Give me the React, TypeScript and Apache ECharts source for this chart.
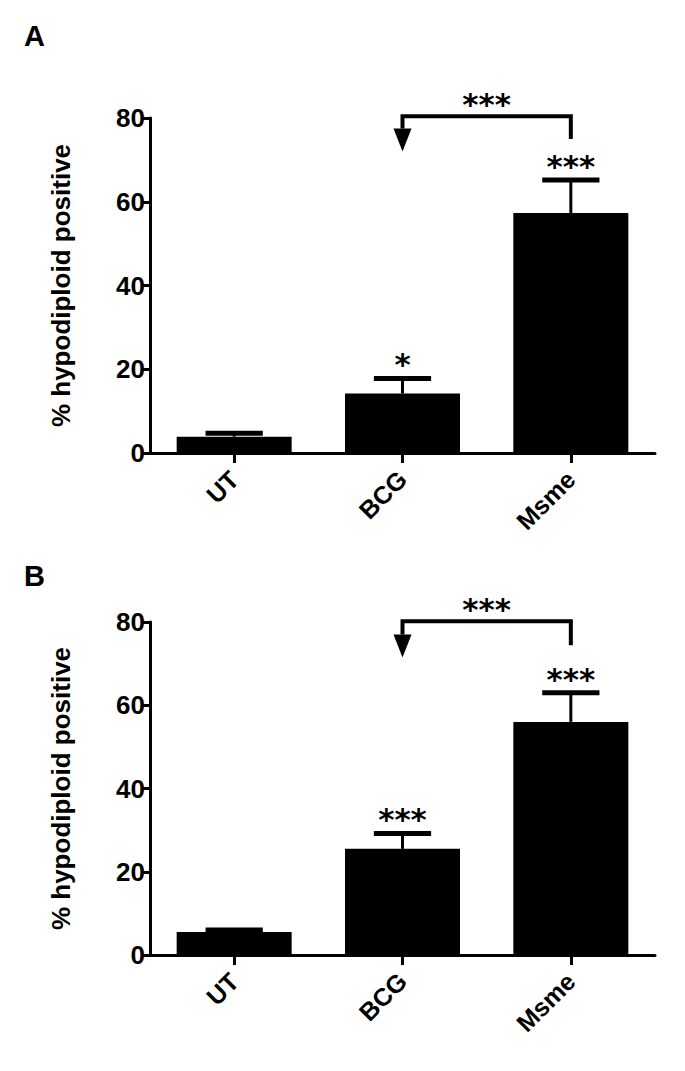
import React, { useEffect, useRef } from "react";
import * as echarts from "echarts";

const categories = ["UT", "BCG", "Msme"];
const meanA = [3.9, 14.2, 57.3];
const errTopA = [4.7, 17.8, 65.2];
const starsA = ["", "*", "***"];
// from, to, bracket level, right end, arrow base, arrow tip
const bracketA = [1, 2, 80.4, 75.0, 77.5, 72.0];
const bracketStarsA = "***";

const meanB = [5.5, 25.5, 56.0];
const errTopB = [6.0, 29.2, 63.0];
const starsB = ["", "***", "***"];
const bracketB = [1, 2, 80.2, 74.4, 77.0, 71.5];
const bracketStarsB = "***";

const yMin = 0;
const yMax = 80;
const yInterval = 20;
const yTitle = "% hypodiploid positive";
const panelLabels = ["A", "B"];

const STAR_FONT = "DejaVu Sans";

function makeErrorRender(stars: string[]) {
  return (params: any, api: any) => {
    const idx = api.value(0);
    const mean = api.value(1);
    const top = api.value(2);
    const p0 = api.coord([idx, mean]);
    const p1 = api.coord([idx, top]);
    const half = api.size([1, 0])[0] * 0.17;
    const star = stars[params.dataIndex];
    const children: any[] = [
      { type: "line", shape: { x1: p0[0], y1: p0[1], x2: p1[0], y2: p1[1] }, style: { stroke: "#000", lineWidth: 3 } },
      { type: "line", shape: { x1: p1[0] - half, y1: p1[1], x2: p1[0] + half, y2: p1[1] }, style: { stroke: "#000", lineWidth: 5 } },
    ];
    if (star) {
      children.push({
        type: "text",
        x: p1[0],
        y: p1[1] - 14,
        style: { text: star, fill: "#000", font: `bold 31px "${STAR_FONT}"`, align: "center", verticalAlign: "middle" },
      });
    }
    return { type: "group", children };
  };
}

function makeBracketRender(label: string) {
  return (params: any, api: any) => {
    const from = api.value(0);
    const to = api.value(1);
    const level = api.value(2);
    const rightEnd = api.value(3);
    const arrowBase = api.value(4);
    const arrowTip = api.value(5);
    const pL = api.coord([from, level]);
    const pR = api.coord([to, level]);
    const pRe = api.coord([to, rightEnd]);
    const pAb = api.coord([from, arrowBase]);
    const pAt = api.coord([from, arrowTip]);
    const aw = 9;
    return {
      type: "group",
      children: [
        {
          type: "polyline",
          shape: { points: [[pRe[0], pRe[1]], [pR[0], pR[1]], [pL[0], pL[1]], [pAb[0], pAb[1]]] },
          style: { stroke: "#000", lineWidth: 4, fill: null },
        },
        {
          type: "polygon",
          shape: { points: [[pAb[0] - aw, pAb[1]], [pAb[0] + aw, pAb[1]], [pAt[0], pAt[1]]] },
          style: { fill: "#000" },
        },
        {
          type: "text",
          x: (pL[0] + pR[0]) / 2,
          y: pL[1] - 12,
          style: { text: label, fill: "#000", font: `bold 31px "${STAR_FONT}"`, align: "center", verticalAlign: "middle" },
        },
      ],
    };
  };
}

function yAxisCfg(gridIndex: number) {
  return {
    type: "value",
    gridIndex,
    min: yMin,
    max: yMax,
    interval: yInterval,
    name: yTitle,
    nameLocation: "middle",
    nameGap: 76,
    nameTextStyle: { fontFamily: "Liberation Sans", fontWeight: "bold", fontSize: 26, color: "#000" },
    axisLine: { show: true, lineStyle: { color: "#000", width: 3 } },
    axisTick: { show: true, length: 7, lineStyle: { color: "#000", width: 3 } },
    axisLabel: { fontFamily: "Liberation Sans", fontWeight: "bold", fontSize: 26, color: "#000", margin: 5 },
    splitLine: { show: false },
  };
}

function xAxisCfg(gridIndex: number) {
  return {
    type: "category",
    gridIndex,
    data: categories,
    axisLine: { show: true, lineStyle: { color: "#000", width: 3 } },
    axisTick: { show: true, alignWithLabel: true, length: 10, lineStyle: { color: "#000", width: 3 } },
    axisLabel: { rotate: 45, fontFamily: "Liberation Sans", fontWeight: "bold", fontSize: 25, color: "#000", margin: 22 },
  };
}

export default function App() {
  const ref = useRef<HTMLDivElement>(null);
  useEffect(() => {
    if (!ref.current) return;
    const chart = echarts.init(ref.current, null, { renderer: "svg" });
    const option: any = {
      animation: false,
      backgroundColor: "#fff",
      grid: [
        { left: 150, top: 118, width: 505, height: 335 },
        { left: 150, top: 622, width: 505, height: 333 },
      ],
      xAxis: [xAxisCfg(0), xAxisCfg(1)],
      yAxis: [yAxisCfg(0), yAxisCfg(1)],
      graphic: [
        { type: "text", left: 24, top: 21, style: { text: panelLabels[0], font: 'bold 29px "Liberation Sans"', fill: "#000" } },
        { type: "text", left: 24, top: 561, style: { text: panelLabels[1], font: 'bold 29px "Liberation Sans"', fill: "#000" } },
      ],
      series: [
        { type: "bar", xAxisIndex: 0, yAxisIndex: 0, data: meanA, barWidth: 115, itemStyle: { color: "#000" } },
        {
          type: "custom",
          xAxisIndex: 0,
          yAxisIndex: 0,
          data: meanA.map((m, i) => [i, m, errTopA[i]]),
          encode: { x: 0, y: [1, 2] },
          renderItem: makeErrorRender(starsA),
          z: 3,
        },
        {
          type: "custom",
          xAxisIndex: 0,
          yAxisIndex: 0,
          data: [bracketA],
          encode: { x: [0, 1], y: [2, 3, 4, 5] },
          renderItem: makeBracketRender(bracketStarsA),
          z: 3,
        },
        { type: "bar", xAxisIndex: 1, yAxisIndex: 1, data: meanB, barWidth: 115, itemStyle: { color: "#000" } },
        {
          type: "custom",
          xAxisIndex: 1,
          yAxisIndex: 1,
          data: meanB.map((m, i) => [i, m, errTopB[i]]),
          encode: { x: 0, y: [1, 2] },
          renderItem: makeErrorRender(starsB),
          z: 3,
        },
        {
          type: "custom",
          xAxisIndex: 1,
          yAxisIndex: 1,
          data: [bracketB],
          encode: { x: [0, 1], y: [2, 3, 4, 5] },
          renderItem: makeBracketRender(bracketStarsB),
          z: 3,
        },
      ],
    };
    chart.setOption(option);
    return () => chart.dispose();
  }, []);
  return <div ref={ref} style={{ position: "absolute", left: 0, top: 0, width: 685, height: 1071 }} />;
}
